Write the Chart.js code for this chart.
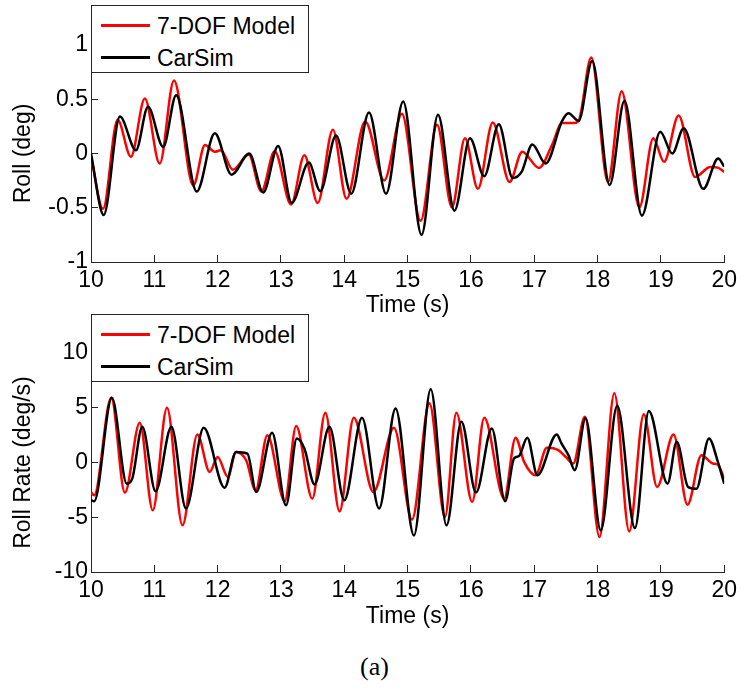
<!DOCTYPE html>
<html>
<head>
<meta charset="utf-8">
<script src="https://cdn.jsdelivr.net/npm/chart.js@4.4.1/dist/chart.umd.min.js"></script>
<style>
  html, body { margin: 0; padding: 0; background: #fff; }
  body { width: 749px; height: 692px; position: relative; overflow: hidden;
         font-family: "Liberation Sans", Arial, sans-serif; }
  canvas { position: absolute; left: 0; }
  .legend { position: absolute; left: 91px; width: 218px; height: 68px; background: #fff;
            border: 1px solid #262626; box-sizing: border-box; z-index: 2; }
  .legend .entry { position: absolute; left: 0; height: 0; }
  .legend .swatch { position: absolute; left: 9px; width: 49px; height: 2.5px; top: -1.25px; }
  .legend .name { position: absolute; left: 65px; top: -14px; font-size: 23px; line-height: 28px;
                  white-space: nowrap; color: #000; }
  .caption { position: absolute; left: 0; width: 749px; text-align: center; top: 652px;
             font-family: "Liberation Serif", "Times New Roman", serif; font-size: 26px; line-height: 30px; color: #000; }
</style>
</head>
<body>
<canvas id="rollChart" width="749" height="320" style="top:0"></canvas>
<canvas id="rateChart" width="749" height="320" style="top:312px"></canvas>
<div class="legend" id="rollLegend" style="top:5px"></div>
<div class="legend" id="rateLegend" style="top:314px"></div>
<div class="caption">(a)</div>

<script>
// Series names and colours
const seriesNames = ['7-DOF Model', 'CarSim'];
const seriesColors = ['#ff0000', '#000000'];

// Shared time axis ticks (s)
const timeTicks = [10, 11, 12, 13, 14, 15, 16, 17, 18, 19, 20];
const rollTicks = [-1, -0.5, 0, 0.5, 1];
const rateTicks = [-10, -5, 0, 5, 10];

// Roll angle (deg) - 7-DOF model
const rollModelTime = [10.0, 10.19, 10.42, 10.63, 10.85, 11.085, 11.31, 11.615, 11.80, 11.955, 12.05, 12.24, 12.49, 12.69, 12.90, 13.16, 13.37, 13.58, 13.82, 14.035, 14.33, 14.63, 14.91, 15.205, 15.465, 15.70, 15.906, 16.11, 16.345, 16.61, 16.81, 17.075, 17.28, 17.44, 17.62, 17.70, 17.90, 18.165, 18.38, 18.66, 18.88, 19.05, 19.28, 19.54, 19.78, 19.90, 20.0];
const rollModel = [-0.03, -0.51, 0.31, -0.03, 0.506, -0.093, 0.673, -0.294, 0.078, 0.016, 0.03, -0.149, -0.01, -0.35, 0.02, -0.47, -0.016, -0.456, 0.22, -0.418, 0.295, -0.248, 0.366, -0.62, 0.264, -0.496, 0.14, -0.326, 0.286, -0.263, 0.016, -0.133, 0.078, 0.28, 0.28, 0.30, 0.884, -0.263, 0.574, -0.496, 0.14, -0.077, 0.35, -0.217, -0.124, -0.13, -0.17];

// Roll angle (deg) - CarSim
const rollCarSimTime = [10.0, 10.2, 10.457, 10.71, 10.90, 11.14, 11.345, 11.67, 11.955, 12.22, 12.50, 12.72, 12.955, 13.17, 13.44, 13.62, 13.87, 14.11, 14.39, 14.66, 14.93, 15.22, 15.48, 15.74, 15.985, 16.21, 16.44, 16.66, 16.80, 16.97, 17.18, 17.44, 17.54, 17.70, 17.915, 18.19, 18.425, 18.70, 18.99, 19.18, 19.36, 19.67, 19.905, 20.0];
const rollCarSim = [0.0, -0.567, 0.34, 0.03, 0.43, 0.06, 0.537, -0.35, 0.186, -0.195, 0.0, -0.36, 0.07, -0.455, -0.084, -0.347, 0.165, -0.37, 0.378, -0.37, 0.48, -0.75, 0.357, -0.527, 0.14, -0.21, 0.27, -0.226, -0.17, 0.084, -0.093, 0.30, 0.372, 0.30, 0.853, -0.29, 0.487, -0.573, 0.20, 0.0, 0.233, -0.326, -0.047, -0.12];

// Roll rate (deg/s) - 7-DOF model
const rateModelTime = [10.0, 10.05, 10.32, 10.535, 10.77, 10.975, 11.20, 11.445, 11.68, 11.875, 12.0, 12.16, 12.29, 12.45, 12.6, 12.785, 13.06, 13.24, 13.495, 13.70, 13.925, 14.15, 14.46, 14.785, 15.07, 15.345, 15.59, 15.77, 16.02, 16.21, 16.525, 16.705, 16.84, 17.02, 17.20, 17.38, 17.5, 17.615, 17.80, 18.03, 18.265, 18.50, 18.73, 18.94, 19.20, 19.42, 19.64, 19.82, 19.9, 20.0];
const rateModel = [-2.7, -3.0, 5.92, -2.75, 3.63, -4.37, 5.0, -5.74, 2.56, -0.86, 0.51, -1.32, 0.97, 0.2, -2.54, 2.5, -3.54, 3.33, -3.3, 4.55, -4.46, 4.08, -2.69, 3.17, -5.2, 5.4, -4.98, 4.55, -3.6, 4.08, -3.3, 2.26, 0.06, -1.16, 1.34, 1.13, 0.5, -0.1, 4.18, -6.8, 6.32, -6.3, 4.4, -2.23, 2.56, -3.85, 0.67, -0.09, -0.2, -1.47];

// Roll rate (deg/s) - CarSim
const rateCarSimTime = [10.0, 10.05, 10.33, 10.565, 10.65, 10.81, 11.02, 11.27, 11.50, 11.78, 12.11, 12.29, 12.47, 12.61, 12.86, 13.08, 13.25, 13.37, 13.53, 13.765, 14.0, 14.28, 14.55, 14.81, 15.10, 15.365, 15.615, 15.85, 16.08, 16.33, 16.54, 16.68, 16.76, 16.89, 17.05, 17.355, 17.43, 17.54, 17.64, 17.81, 18.05, 18.31, 18.59, 18.81, 19.105, 19.25, 19.43, 19.56, 19.76, 19.90, 20.0];
const rateCarSim = [-3.45, -3.55, 5.92, -1.93, -1.5, 3.26, -2.63, 3.26, -4.2, 3.17, -2.3, 0.97, 0.8, -2.69, 2.71, -3.91, 2.2, 1.28, -2.0, 3.26, -3.45, 4.08, -4.2, 4.94, -6.66, 6.7, -5.74, 3.72, -2.75, 3.1, -3.54, 0.37, 0.6, 2.26, -1.16, 2.56, 1.74, 0.67, -0.7, 4.03, -6.2, 5.18, -5.99, 4.7, -1.93, 1.89, -2.23, -2.4, 2.2, 0.06, -1.93];

const FONT = '"Liberation Sans", Arial, sans-serif';
const AXIS_COLOR = '#262626';

function toPoints(ts, vs) {
  return ts.map((t, i) => ({ x: t, y: vs[i] }));
}

function fmt(v) { return String(v); }

function buildLegend(id) {
  const box = document.getElementById(id);
  const rows = [19.5, 51.5];
  seriesNames.forEach((name, i) => {
    const entry = document.createElement('div');
    entry.className = 'entry';
    entry.style.top = rows[i] + 'px';
    const sw = document.createElement('div');
    sw.className = 'swatch';
    sw.style.background = seriesColors[i];
    const label = document.createElement('div');
    label.className = 'name';
    label.textContent = name;
    entry.appendChild(sw);
    entry.appendChild(label);
    box.appendChild(entry);
  });
}

function makePlot(canvasId, opts) {
  return new Chart(document.getElementById(canvasId), {
    type: 'line',
    data: {
      datasets: [
        { label: seriesNames[1], data: toPoints(opts.carsimT, opts.carsimV),
          borderColor: seriesColors[1], order: 0 },
        { label: seriesNames[0], data: toPoints(opts.modelT, opts.modelV),
          borderColor: seriesColors[0], order: 1 }
      ]
    },
    options: {
      responsive: false,
      animation: false,
      devicePixelRatio: 1,
      layout: { padding: { top: opts.padTop, right: 16, left: 0, bottom: 0 } },
      plugins: { legend: { display: false }, tooltip: { enabled: false } },
      elements: {
        point: { radius: 0 },
        line: { borderWidth: 2.5, cubicInterpolationMode: 'monotone', fill: false }
      },
      scales: {
        x: {
          type: 'linear', min: 10, max: 20,
          afterFit(s) { s.height = opts.xAxisHeight; },
          afterBuildTicks(s) { s.ticks = timeTicks.map(v => ({ value: v })); },
          ticks: { color: '#000', font: { family: FONT, size: 23 }, padding: 12,
                   maxRotation: 0, autoSkip: false, callback: fmt },
          grid: { drawOnChartArea: false, drawTicks: true, tickLength: -7, color: AXIS_COLOR },
          border: { color: AXIS_COLOR, width: 1 },
          title: { display: true, text: 'Time (s)', color: '#000',
                   font: { family: FONT, size: 23 }, padding: { top: 0, bottom: opts.xTitlePad } }
        },
        y: {
          type: 'linear', min: opts.yTicks[0], max: opts.yTicks[opts.yTicks.length - 1],
          afterFit(s) { s.width = 91; },
          afterBuildTicks(s) { s.ticks = opts.yTicks.map(v => ({ value: v })); },
          ticks: { color: '#000', font: { family: FONT, size: 23 }, padding: 10,
                   autoSkip: false, callback: fmt },
          grid: { drawOnChartArea: false, drawTicks: true, tickLength: -7, color: AXIS_COLOR },
          border: { color: AXIS_COLOR, width: 1 },
          title: { display: true, text: opts.yTitle, color: '#000',
                   font: { family: FONT, size: 23 }, padding: { top: 10, bottom: 0 } }
        }
      }
    }
  });
}

makePlot('rollChart', {
  modelT: rollModelTime, modelV: rollModel,
  carsimT: rollCarSimTime, carsimV: rollCarSim,
  yTicks: rollTicks, yTitle: 'Roll (deg)',
  padTop: 45, xAxisHeight: 58, xTitlePad: 1
});

makePlot('rateChart', {
  modelT: rateModelTime, modelV: rateModel,
  carsimT: rateCarSimTime, carsimV: rateCarSim,
  yTicks: rateTicks, yTitle: 'Roll Rate (deg/s)',
  padTop: 41, xAxisHeight: 60, xTitlePad: 2
});

buildLegend('rollLegend');
buildLegend('rateLegend');
</script>
</body>
</html>
